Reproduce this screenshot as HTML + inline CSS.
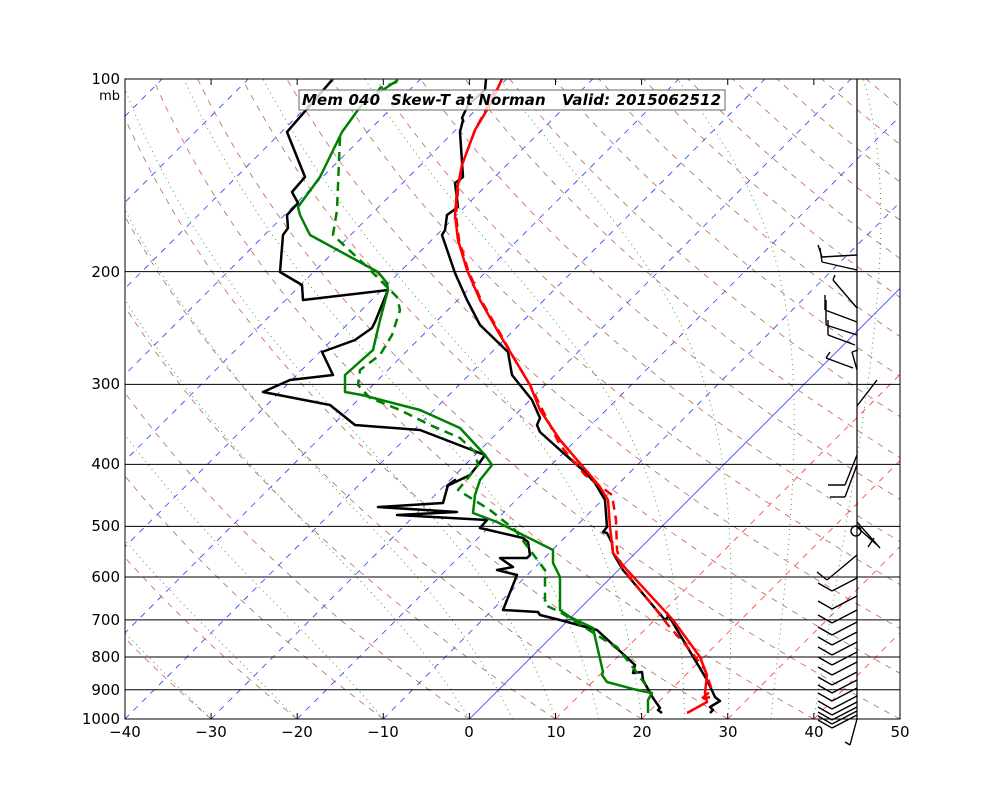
<!DOCTYPE html>
<html><head><meta charset="utf-8"><style>
html,body{margin:0;padding:0;background:#fff;}
svg{display:block;font-family:"DejaVu Sans","Liberation Sans",sans-serif;}
</style></head><body>
<svg id="s" width="1000" height="800" xmlns="http://www.w3.org/2000/svg">
<defs><clipPath id="c"><rect x="125" y="79" width="775" height="640"/></clipPath></defs>
<g id="bg" clip-path="url(#c)"></g>
<g id="hl" stroke="#000" stroke-width="1"></g>
<g id="tr" clip-path="url(#c)" fill="none" stroke-width="2.5" stroke-linejoin="round"></g>
<g id="wb" stroke="#000" stroke-width="1.4" fill="none"></g>
<rect x="125" y="79" width="775" height="640" fill="none" stroke="#000" stroke-width="1"/>
<line x1="857" y1="79" x2="857" y2="719" stroke="#000" stroke-width="1.2"/>
<rect x="299" y="90" width="426" height="20" fill="#fff" fill-opacity="0.8" stroke="#666" stroke-width="1"/>
<text x="302" y="105" font-size="15" font-weight="bold" font-style="italic" textLength="419" lengthAdjust="spacing" style="white-space:pre" xml:space="preserve">Mem 040  Skew-T at Norman   Valid: 2015062512</text>
<g font-size="15" text-anchor="end">
<text x="120" y="84">100</text><text x="120" y="100" font-size="13">mb</text>
<text x="120" y="277">200</text><text x="120" y="389">300</text><text x="120" y="469">400</text>
<text x="120" y="531">500</text><text x="120" y="582">600</text><text x="120" y="625">700</text>
<text x="120" y="662">800</text><text x="120" y="695">900</text><text x="120" y="724">1000</text>
</g>
<g font-size="15" text-anchor="middle">
<text x="125" y="737">−40</text><text x="211" y="737">−30</text><text x="297" y="737">−20</text>
<text x="383" y="737">−10</text><text x="469" y="737">0</text><text x="556" y="737">10</text>
<text x="642" y="737">20</text><text x="728" y="737">30</text><text x="814" y="737">40</text>
<text x="900" y="737">50</text>
</g>
</svg>
<script>
var NS="http://www.w3.org/2000/svg";
function el(par,tag,a){var e=document.createElementNS(NS,tag);for(var k in a)e.setAttribute(k,a[k]);document.getElementById(par).appendChild(e);return e;}
function Y(p){return 79+640*Math.log10(p/100);}
function X(T,p){return 469.4+8.611*T+(719-Y(p));}
for(var t=-40;t<=50;t+=10){var x=469.4+8.611*t;el('hl','line',{x1:x,y1:719,x2:x,y2:713});el('hl','line',{x1:x,y1:79,x2:x,y2:85});}
[200,300,400,500,600,700,800,900].forEach(function(p){var y=Y(p);el('hl','line',{x1:125,y1:y,x2:900,y2:y});});
for(var T=-150;T<=50;T+=10){var x1=X(T,1000),x2=X(T,100);
 var a={x1:x1,y1:719,x2:x2,y2:79,'stroke-width':0.8};
 if(T==0){a.stroke='#3333ff';}else if(T<0){a.stroke='#3333ff';a['stroke-dasharray']='6,6';}else{a.stroke='#ff3333';a['stroke-dasharray']='6,6';}
 el('bg','line',a);}
for(var th=-40;th<=200;th+=10){var pts=[];for(var p=1000;p>=100;p-=10){var T=(th+273.15)*Math.pow(p/1000,0.286)-273.15;pts.push(X(T,p).toFixed(1)+','+Y(p).toFixed(1));}
 el('bg','polyline',{points:pts.join(' '),fill:'none',stroke:'#b03a3a','stroke-width':0.8,'stroke-dasharray':'6,6','stroke-opacity':0.8});}
function es(T){return 6.112*Math.exp(17.67*T/(T+243.5));}
[-30,-20,-10,0,5,10,15,20,25,30,35,40].forEach(function(T0){var T=T0,pts=[];
 for(var p=1000;p>=100;p-=5){pts.push(X(T,p).toFixed(1)+','+Y(p).toFixed(1));
  var Tk=T+273.15,rs=0.622*es(T)/(p-es(T)),Lv=2.5e6,Rd=287,Cp=1004;
  var dTdp=(Rd*Tk+Lv*rs)/(p*(Cp+Lv*Lv*rs*0.622/(Rd*Tk*Tk)));T-=dTdp*5;}
 el('bg','polyline',{points:pts.join(' '),fill:'none',stroke:'#2a9a2a','stroke-width':0.9,'stroke-dasharray':'1,4'});});
function pl(pts,col,dash){var a={points:pts.map(function(q){return q.join(',')}).join(' '),stroke:col};if(dash)a['stroke-dasharray']='9,6';el('tr','polyline',a);}
pl([[486,79],[485,90],[468,105],[462,118],[463,120],[460,132],[463,177],[455,183],[458,207],[447,215],[445,230],[442,235],[455,273],[467,300],[480,325],[508,352],[512,375],[532,400],[540,418],[537,425],[540,432],[560,450],[585,472],[595,483],[605,500],[607,527],[603,532],[607,533],[612,543],[613,553],[623,570],[665,620],[668,617],[667,613],[707,680],[715,697],[720,701],[710,707],[713,710],[710,713]],'#000');
pl([[502,79],[490,105],[475,130],[462,165],[457,190],[455,215],[458,240],[467,270],[480,300],[500,335],[515,360],[530,385],[540,410],[560,440],[590,475],[600,487],[608,500],[610,527],[613,553],[627,570],[673,620],[700,657],[707,675],[705,693],[707,702],[687,713]],'#ff0000');
pl([[494,90],[487,108],[475,130],[462,165],[458,190],[456,215],[459,240],[468,270],[481,300],[501,335],[515,360],[530,385],[545,415],[560,445],[585,475],[612,495],[616,520],[617,550],[622,568],[640,590],[658,612],[668,625],[690,650],[705,670],[712,690],[700,700],[710,697]],'#ff0000',1);
pl([[332,80],[287,132],[305,177],[292,192],[298,203],[287,215],[288,228],[283,235],[280,272],[302,285],[303,300],[388,290],[375,322],[372,328],[355,340],[322,352],[333,375],[290,380],[263,392],[330,405],[355,425],[420,430],[485,455],[478,465],[470,475],[447,486],[455,480],[448,485],[443,503],[378,507],[457,512],[397,515],[487,520],[480,528],[523,538],[528,542],[530,555],[527,558],[500,558],[513,567],[497,570],[517,575],[503,610],[538,612],[540,615],[560,620],[597,630],[635,665],[633,673],[642,672],[643,680],[653,698],[660,708],[658,710],[662,713]],'#000');
pl([[398,80],[363,103],[342,132],[320,177],[298,207],[300,215],[310,235],[378,272],[387,283],[388,290],[380,320],[373,350],[345,375],[345,392],[362,395],[420,410],[460,428],[485,455],[492,465],[480,480],[475,495],[473,513],[497,522],[553,550],[553,563],[560,577],[560,610],[570,617],[593,628],[603,672],[602,675],[607,682],[637,690],[652,693],[648,700],[648,713]],'#008000');
pl([[397,82],[380,88],[372,100]],'#008000',1);
pl([[340,137],[337,210],[333,235],[363,263],[397,297],[400,310],[392,335],[380,355],[360,370],[358,385],[370,398],[400,410],[430,425],[460,438],[475,452],[478,465],[468,478],[458,490],[490,510],[515,530],[530,550],[545,570],[545,605],[560,612],[600,637],[617,647],[635,670],[647,687]],'#008000',1);
function ln(a,b,c,d){el('wb','line',{x1:a,y1:b,x2:c,y2:d});}
[[857,255,822,257,818,245],[857,270,822,262,820,248],[857,308,833,280,835,275],[857,322,825,310,825,295],[857,335,826,325,826,300],[855,345,828,335,828,320],[853,368,826,358,830,352]].forEach(function(b){ln(b[0],b[1],b[2],b[3]);ln(b[2],b[3],b[4],b[5]);});
ln(857,370,852,352);ln(852,352,858,350);ln(857,406,877,380);
ln(857,455,845,485);ln(845,485,828,485);ln(857,465,845,497);ln(845,497,830,497);
ln(857,522,880,548);ln(857,527,877,545);ln(874,538,868,547);
el('wb','circle',{cx:856,cy:531,r:5});
ln(857,555,827,580);ln(827,580,817,572);
[578,596,610,622,632,642,652,662,672,680,688,696,702,707,711,715].forEach(function(y){ln(857,y,832,y+13);ln(832,y+13,818,y+5);});
ln(857,719,850,745);ln(850,745,845,742);
</script>
</body></html>
